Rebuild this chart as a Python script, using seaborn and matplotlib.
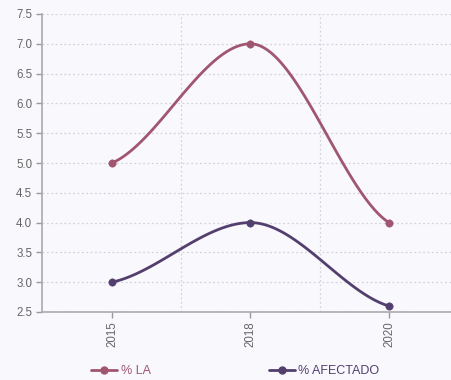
import numpy as np
import pandas as pd
import seaborn as sns
import matplotlib.pyplot as plt
from matplotlib.lines import Line2D

# data
years = ['2015', '2018', '2020']
pct_la = [5.0, 7.0, 4.0]
pct_afectado = [3.0, 4.0, 2.6]
series_names = ['% LA', '% AFECTADO']
series_colors = ['#a0566f', '#533f6e']


def smooth_curve(y, n=60, end_k=0.5):
    # monotone style cubic: flat at local extrema, gentle slope at the ends
    y = np.asarray(y, float)
    x = np.arange(len(y), dtype=float)
    s = np.diff(y)
    t = np.zeros(len(y))
    for i in range(1, len(y) - 1):
        s0, s1 = s[i - 1], s[i]
        p = (s0 + s1) / 2
        t[i] = (np.sign(s0) + np.sign(s1)) * min(abs(s0), abs(s1), 0.5 * abs(p))
    t[0] = end_k * s[0]
    t[-1] = end_k * s[-1]
    xs, ys = [], []
    for i in range(len(y) - 1):
        u = np.linspace(0, 1, n)
        h00 = 2 * u**3 - 3 * u**2 + 1
        h10 = u**3 - 2 * u**2 + u
        h01 = -2 * u**3 + 3 * u**2
        h11 = u**3 - u**2
        xs.append(x[i] + u)
        ys.append(h00 * y[i] + h10 * t[i] + h01 * y[i + 1] + h11 * t[i + 1])
    return np.concatenate(xs), np.concatenate(ys)


sns.set_style('white')
plt.rcParams['font.family'] = ['Liberation Sans', 'DejaVu Sans']

bg = '#f9f8fd'
fig = plt.figure(figsize=(4.51, 3.80), dpi=100, facecolor=bg)
ax = fig.add_axes([42 / 451, 68 / 380, 409 / 451, 298 / 380])
ax.set_facecolor(bg)

handles = []
for name, vals, col in zip(series_names, [pct_la, pct_afectado], series_colors):
    cx, cy = smooth_curve(vals)
    sns.lineplot(x=cx, y=cy, ax=ax, color=col, linewidth=2, sort=False)
    pts = pd.DataFrame({'x': np.arange(len(years)), 'y': vals})
    sns.scatterplot(data=pts, x='x', y='y', ax=ax, color=col, s=28,
                    edgecolor=col, zorder=5)
    handles.append(Line2D([0], [0], color=col, lw=2, marker='o', markersize=5))

ax.set_xlim(-0.505, 2.448)
ax.set_ylim(2.5, 7.5)
ax.set_xticks(range(len(years)))
ax.set_xticklabels(years, rotation=90)
ax.set_xticks([0.5, 1.5], minor=True)
ax.set_yticks(np.arange(2.5, 7.51, 0.5))
ax.set_yticklabels([f'{v:.1f}' for v in np.arange(2.5, 7.51, 0.5)])
ax.grid(axis='y', which='major', linestyle=(0, (1.5, 2)), color='#d4d3dc', lw=0.9)
ax.grid(axis='x', which='minor', linestyle=(0, (1.5, 2)), color='#d4d3dc', lw=0.9)
ax.tick_params(axis='x', which='minor', length=0)
ax.tick_params(axis='both', which='major', length=4, width=1, color='#999999',
               labelcolor='#666666', labelsize=8.3, pad=3, bottom=True, left=True)
ax.set_xlabel('')
ax.set_ylabel('')
for side in ['top', 'right']:
    ax.spines[side].set_visible(False)
for side in ['left', 'bottom']:
    ax.spines[side].set_color('#aaaaaa')
    ax.spines[side].set_linewidth(1.2)

leg = fig.legend(handles, series_names, loc='center left',
                 bbox_to_anchor=(91 / 451, 1 - 371 / 380), ncol=2, frameon=False,
                 fontsize=9, handlelength=2.1, handletextpad=0.3,
                 columnspacing=9.4, borderaxespad=0, borderpad=0)
for txt, col in zip(leg.get_texts(), series_colors):
    txt.set_color(col)

fig.savefig('out.png', dpi=100, facecolor=bg)
